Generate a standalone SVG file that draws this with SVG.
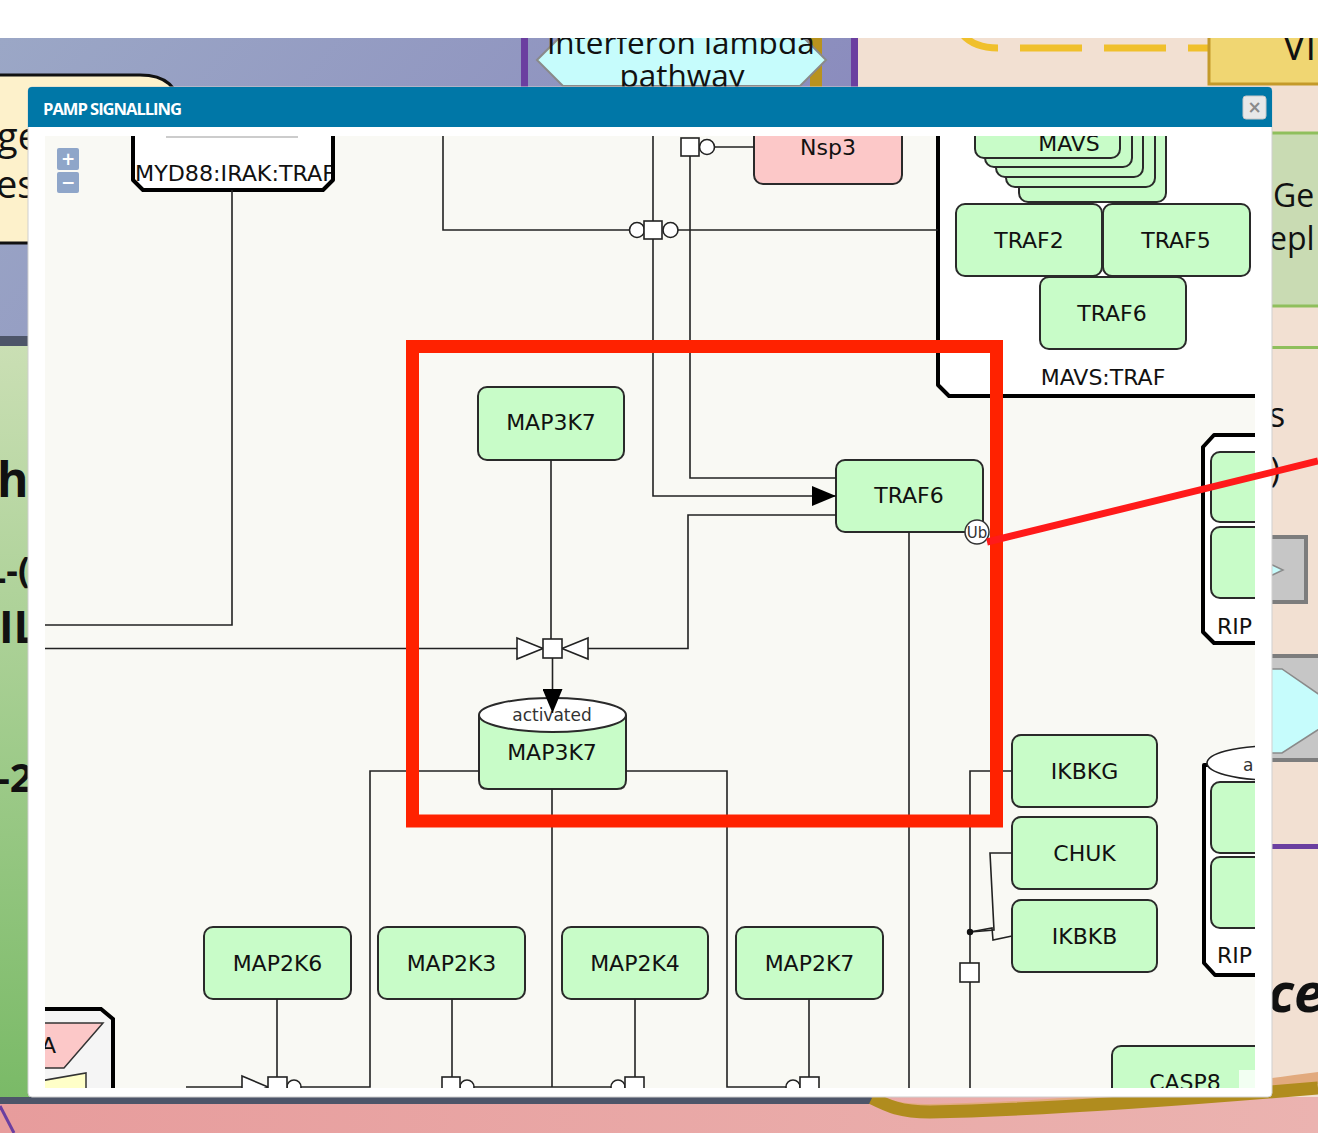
<svg xmlns="http://www.w3.org/2000/svg" width="1318" height="1133" viewBox="0 0 1318 1133">
<defs>
<linearGradient id="gPurple" x1="0" y1="0" x2="1" y2="0.3">
<stop offset="0" stop-color="#9ba7c6"/><stop offset="1" stop-color="#8a8bbd"/>
</linearGradient>
<linearGradient id="gGreen" x1="0" y1="0" x2="0" y2="1">
<stop offset="0" stop-color="#cadfb4"/><stop offset="1" stop-color="#7aba67"/>
</linearGradient>
<linearGradient id="gPink" x1="0" y1="0" x2="1" y2="0">
<stop offset="0" stop-color="#e79c9c"/><stop offset="1" stop-color="#ebb3b0"/>
</linearGradient>
<clipPath id="clipContent"><rect x="45" y="136" width="1210" height="952"/></clipPath>
<marker id="arrow" viewBox="0 0 24 20" markerWidth="24" markerHeight="20" refX="24" refY="10" orient="auto" markerUnits="userSpaceOnUse">
<path d="M0,0 L24,10 L0,20 Z" fill="#000"/>
</marker>
<style>
.node rect, .node path.body {fill:#c8fcc8; stroke:#2a2a2a; stroke-width:2}
.lbl {font-family:"DejaVu Sans","Liberation Sans",sans-serif; font-size:22px; fill:#111; text-anchor:middle}
.small {font-family:"DejaVu Sans","Liberation Sans",sans-serif; font-size:17px; fill:#333; text-anchor:middle}
.start {text-anchor:start}
.end {text-anchor:end}
.cx {fill:#fff; stroke:#000; stroke-width:4; stroke-linejoin:round}
.edge {fill:none; stroke:#222; stroke-width:1.6}
.pn {fill:#fff; stroke:#222; stroke-width:1.6}
.bgtxt {font-family:"Open Sans","Liberation Sans",sans-serif; fill:#111}
.bgbold {font-family:"Open Sans","Liberation Sans",sans-serif; font-weight:700; fill:#111}
</style>
</defs>

<g id="background">
<rect x="0" y="0" width="1318" height="1133" fill="#fff"/>
<rect x="0" y="38" width="860" height="300" fill="url(#gPurple)"/>
<rect x="0" y="336" width="40" height="10" fill="#4d5569"/>
<rect x="0" y="346" width="40" height="752" fill="url(#gGreen)"/>
<rect x="858" y="38" width="460" height="1062" fill="#f2e0d2"/>
<path d="M-5,75 H140 Q178,75 180,110 V243 H-5 Z" fill="#fdf1cb" stroke="#111" stroke-width="3"/>
<text class="bgtxt" x="-3" y="150" font-size="38">ge</text>
<text class="bgtxt" x="-4" y="198" font-size="38">esc</text>
<text class="bgbold" x="-3" y="497" font-size="48">h</text>
<text class="bgbold" x="-14" y="583" font-size="36">L-(</text>
<text class="bgbold" x="-1" y="643" font-size="44">IL</text>
<text class="bgbold" x="-3" y="792" font-size="40">-2</text>
<rect x="521" y="38" width="7" height="50" fill="#6b3fa0"/>
<rect x="810" y="38" width="12" height="50" fill="#b8921e"/>
<rect x="851" y="38" width="7" height="50" fill="#6b3fa0"/>
<polygon points="537,60 563,34 800,34 826,60 800,86 563,86" fill="#c6fcfc" stroke="#8a8a8a" stroke-width="2"/>
<text class="bgtxt" x="681" y="54" font-size="31.5" text-anchor="middle">interferon lambda</text>
<text class="bgtxt" x="682" y="87" font-size="31.5" text-anchor="middle">pathway</text>
<path d="M962,34 Q974,48 998,48 M1020,48 H1082 M1104,48 H1166 M1188,48 H1210" fill="none" stroke="#f0c02c" stroke-width="7"/>
<rect x="1209" y="20" width="120" height="64" fill="#f0d672" stroke="#c49a2a" stroke-width="3"/>
<text class="bgtxt" x="1282" y="60" font-size="40">Vi</text>
<rect x="0" y="0" width="1318" height="38" fill="#fff"/>
<rect x="1268" y="133" width="60" height="173" fill="#c9dbb3" stroke="#8fbf5c" stroke-width="3"/>
<text class="bgtxt" x="1273" y="207" font-size="32">Ge</text>
<text class="bgtxt" x="1269" y="250" font-size="32">epl</text>
<rect x="1268" y="346" width="60" height="3" fill="#8fbf5c"/>
<text class="bgtxt" x="1269" y="427" font-size="34">s</text>
<text class="bgtxt" x="1270" y="482" font-size="34">)</text>
<rect x="1266" y="537" width="40" height="65" fill="#c6c6c6" stroke="#7d7d7d" stroke-width="4"/>
<polygon points="1266,562 1283,570 1266,578" fill="#c6fcfc" stroke="#8a8a8a" stroke-width="1.5"/>
<rect x="1266" y="656" width="60" height="104" fill="#c6c6c6" stroke="#7d7d7d" stroke-width="4"/>
<polygon points="1266,669 1282,669 1330,702 1330,722 1282,753 1266,753" fill="#c6fcfc" stroke="#8a8a8a" stroke-width="1.5"/>
<rect x="1268" y="844" width="60" height="5" fill="#6b3fa0"/>
<text class="bgbold" x="1268" y="1012" font-size="54" font-style="italic">ce</text>
<rect x="0" y="1097" width="1318" height="36" fill="url(#gPink)"/>
<rect x="0" y="1097" width="880" height="7" fill="#4d5569"/>
<path d="M870,1094 C890,1100 900,1104 930,1104 C1050,1102 1200,1088 1318,1072 L1318,1084 C1200,1096 1050,1106 930,1108 C905,1108 890,1100 870,1097 Z" fill="#e2aa7e"/>
<path d="M872,1098 C888,1106 900,1112 930,1112 C1050,1110 1200,1098 1318,1088" fill="none" stroke="#b08c1e" stroke-width="13"/>
<path d="M0,1106 L14,1133" stroke="#6b3fa0" stroke-width="3"/>
</g>

<g id="popup">
<rect x="28" y="87" width="1244" height="1010" rx="4" fill="#fff" stroke="#cfcfcf"/>
<path d="M28,127 V91 Q28,87 32,87 H1268 Q1272,87 1272,91 V127 Z" fill="#0077a7"/>
<text x="43" y="115" font-family="'Open Sans','Liberation Sans',sans-serif" font-weight="700" font-size="16" fill="#fff" letter-spacing="-1" textLength="138" lengthAdjust="spacingAndGlyphs">PAMP SIGNALLING</text>
<rect x="1243" y="96" width="23" height="23" rx="3" fill="#e8e8e8" stroke="#c8c8c8"/>
<text x="1254.5" y="113" font-family="'DejaVu Sans',sans-serif" font-weight="700" font-size="17" fill="#8a8a8a" text-anchor="middle">×</text>
<rect x="45" y="136" width="1210" height="952" fill="#f9f9f4"/>
</g>

<g id="content" clip-path="url(#clipContent)">
<g id="complexes">
<g id="complex-MAVS-TRAF">
<path class="cx" d="M938,100 V385 L949,396 H1300 V100 Z"/>
<text class="lbl" x="1103" y="385">MAVS:TRAF</text>
</g>
<g id="complex-MYD88">
<path class="cx" d="M133,100 V180 L143,190 H323 L333,180 V100 Z"/>
<line x1="166" y1="137" x2="298" y2="137" stroke="#bbb" stroke-width="1.5"/>
<text class="lbl start" x="135" y="181" textLength="200" lengthAdjust="spacingAndGlyphs">MYD88:IRAK:TRAF</text>
<path d="M333,136 V180" stroke="#000" stroke-width="4" fill="none"/>
</g>
<g id="complex-RIP1">
<path class="cx" d="M1203,447 L1214,435 H1300 V643 H1214 L1203,632 Z"/>
<g class="node"><rect x="1211" y="452" width="100" height="70" rx="9"/><rect x="1211" y="527" width="100" height="71" rx="9"/></g>
<text class="lbl start" x="1217" y="634">RIP</text>
</g>
<g id="complex-RIP2">
<path class="cx" d="M1204,765 V963 L1215,975 H1300 V765 Z"/>
<ellipse cx="1270" cy="763" rx="63" ry="17" fill="#fff" stroke="#222" stroke-width="1.6"/>
<text class="small start" x="1243" y="771">a</text>
<g class="node"><rect x="1211" y="782" width="100" height="71" rx="9"/><rect x="1211" y="857" width="100" height="71" rx="9"/></g>
<text class="lbl start" x="1217" y="963">RIP</text>
</g>
<g id="complex-bottomleft">
<path d="M40,1009 H101 L113,1019 V1100 H40 Z" fill="#f5f5f5" stroke="#000" stroke-width="4"/>
<polygon points="40,1023 103,1023 64,1068 40,1068" fill="#fcc8c8" stroke="#333" stroke-width="1.5"/>
<text class="lbl end" x="56" y="1053">A</text>
<polygon points="40,1081 86,1073 86,1100 40,1100" fill="#ffffc8" stroke="#333" stroke-width="1.5"/>
</g>
</g>

<g id="nodes">
<g id="node-Nsp3" class="node"><rect x="754" y="100" width="148" height="84" rx="9" style="fill:#fcc8c8"/><text class="lbl" x="828" y="155">Nsp3</text></g>
<g id="node-MAVS" class="node">
<rect x="1019" y="120" width="147" height="82" rx="9"/>
<rect x="1006" y="115" width="149" height="72" rx="9"/>
<rect x="996" y="110" width="147" height="67" rx="9"/>
<rect x="985" y="105" width="147" height="62" rx="9"/>
<rect x="975" y="100" width="145" height="58" rx="9"/>
<text class="lbl" x="1069" y="151">MAVS</text>
</g>
<g id="node-TRAF2" class="node"><rect x="956" y="204" width="146" height="72" rx="9"/><text class="lbl" x="1029" y="248">TRAF2</text></g>
<g id="node-TRAF5" class="node"><rect x="1103" y="204" width="147" height="72" rx="9"/><text class="lbl" x="1176" y="248">TRAF5</text></g>
<g id="node-TRAF6-complex" class="node"><rect x="1040" y="277" width="146" height="72" rx="9"/><text class="lbl" x="1112" y="321">TRAF6</text></g>
<g id="node-MAP3K7" class="node"><rect x="478" y="387" width="146" height="73" rx="9"/><text class="lbl" x="551" y="430">MAP3K7</text></g>
<g id="node-TRAF6" class="node"><rect x="836" y="460" width="147" height="72" rx="9"/><text class="lbl" x="909" y="503">TRAF6</text>
<circle cx="977" cy="532" r="12" fill="#fff" stroke="#333" stroke-width="1.5"/>
<text x="977" y="538" font-family="'DejaVu Sans',sans-serif" font-size="15" fill="#333" text-anchor="middle">Ub</text></g>
<g id="node-MAP3K7-activated" class="node">
<path class="body" d="M479,715 V780 Q479,789 488,789 H617 Q626,789 626,780 V715"/>
<ellipse cx="552.5" cy="715" rx="73.5" ry="17" fill="#fff" stroke="#2a2a2a" stroke-width="2"/>
<text class="small" x="552" y="721">activated</text>
<text class="lbl" x="552" y="760">MAP3K7</text>
</g>
<g id="node-IKBKG" class="node"><rect x="1012" y="735" width="145" height="72" rx="9"/><text class="lbl" x="1084.5" y="779">IKBKG</text></g>
<g id="node-CHUK" class="node"><rect x="1012" y="817" width="145" height="72" rx="9"/><text class="lbl" x="1084.5" y="861">CHUK</text></g>
<g id="node-IKBKB" class="node"><rect x="1012" y="900" width="145" height="72" rx="9"/><text class="lbl" x="1084.5" y="944">IKBKB</text></g>
<g id="node-MAP2K6" class="node"><rect x="204" y="927" width="147" height="72" rx="9"/><text class="lbl" x="277.5" y="971">MAP2K6</text></g>
<g id="node-MAP2K3" class="node"><rect x="378" y="927" width="147" height="72" rx="9"/><text class="lbl" x="451.5" y="971">MAP2K3</text></g>
<g id="node-MAP2K4" class="node"><rect x="562" y="927" width="146" height="72" rx="9"/><text class="lbl" x="635" y="971">MAP2K4</text></g>
<g id="node-MAP2K7" class="node"><rect x="736" y="927" width="147" height="72" rx="9"/><text class="lbl" x="809.5" y="971">MAP2K7</text></g>
<g id="node-CASP8" class="node"><rect x="1112" y="1046" width="170" height="70" rx="9"/><text class="lbl" x="1185" y="1090">CASP8</text>
<rect x="1239" y="1070" width="30" height="30" style="fill:#f2fff2;stroke:none"/></g>
</g>

<g id="connectors">
<path class="edge" d="M232,190 V625 H40"/>
<path class="edge" d="M40,648.5 H517"/>
<path class="edge" d="M551,460 V639"/>
<path class="edge" d="M552.5,658 V713" marker-end="url(#arrow)"/>
<path class="edge" d="M588,648.5 H688 V515 H836"/>
<polygon class="pn" points="517,638 543,648.5 517,659"/>
<polygon class="pn" points="588,638 562,648.5 588,659"/>
<rect class="pn" x="543" y="639" width="19" height="19"/>
<path class="edge" d="M443,130 V230 H629"/>
<path class="edge" d="M678,230 H938"/>
<path class="edge" d="M653,130 V221"/>
<path class="edge" d="M653,239 V496 H836" marker-end="url(#arrow)"/>
<path class="edge" d="M690,156 V478 H836"/>
<circle class="pn" cx="637" cy="230" r="7.5"/>
<circle class="pn" cx="670.5" cy="230" r="7.5"/>
<rect class="pn" x="644" y="221" width="18" height="18"/>
<path class="edge" d="M714,147 H754"/>
<circle class="pn" cx="707" cy="147" r="7.5"/>
<rect class="pn" x="681" y="138" width="18" height="18"/>
<path class="edge" d="M909,532 V1100"/>
<path class="edge" d="M479,771 H370 V1087 H301"/>
<path class="edge" d="M626,771 H727 V1087 H786"/>
<path class="edge" d="M552,789 V1087"/>
<path class="edge" d="M474,1087 H611"/>
<path class="edge" d="M186,1087 H242"/>
<path class="edge" d="M277,999 V1077"/>
<polygon class="pn" points="242,1076 268,1087 242,1098"/>
<circle class="pn" cx="294" cy="1087" r="7"/>
<rect class="pn" x="268" y="1077" width="19" height="19"/>
<path class="edge" d="M452,999 V1077"/>
<circle class="pn" cx="467" cy="1087" r="7"/>
<rect class="pn" x="442" y="1077" width="18" height="19"/>
<path class="edge" d="M635,999 V1077"/>
<circle class="pn" cx="618" cy="1087" r="7"/>
<rect class="pn" x="625" y="1077" width="19" height="19"/>
<path class="edge" d="M809,999 V1077"/>
<circle class="pn" cx="793" cy="1087" r="7"/>
<rect class="pn" x="800" y="1077" width="19" height="19"/>
<path class="edge" d="M1012,771 H970 V1100"/>
<path class="edge" d="M1012,853 H990 L994,930 L970,932"/>
<path class="edge" d="M1012,936 L993,940 L992,928 L970,932"/>
<circle cx="970" cy="932" r="3.2" fill="#111"/>
<rect class="pn" x="960" y="963" width="19" height="19"/>
</g>
</g>

<g id="zoom-controls">
<rect x="57" y="148" width="22" height="22" rx="2" fill="#8fa6c9"/>
<text x="68" y="165" font-family="'DejaVu Sans',sans-serif" font-weight="700" font-size="17" fill="#fff" text-anchor="middle">+</text>
<rect x="57" y="172" width="22" height="21" rx="2" fill="#8fa6c9"/>
<text x="68" y="188" font-family="'DejaVu Sans',sans-serif" font-weight="700" font-size="17" fill="#fff" text-anchor="middle">−</text>
</g>

<g id="annotation">
<rect x="412.5" y="346.5" width="584" height="474.5" fill="none" stroke="#ff2200" stroke-width="13"/>
<path d="M987,542 L1318,461" stroke="#ff1a1a" stroke-width="7" fill="none"/>
</g>
</svg>
